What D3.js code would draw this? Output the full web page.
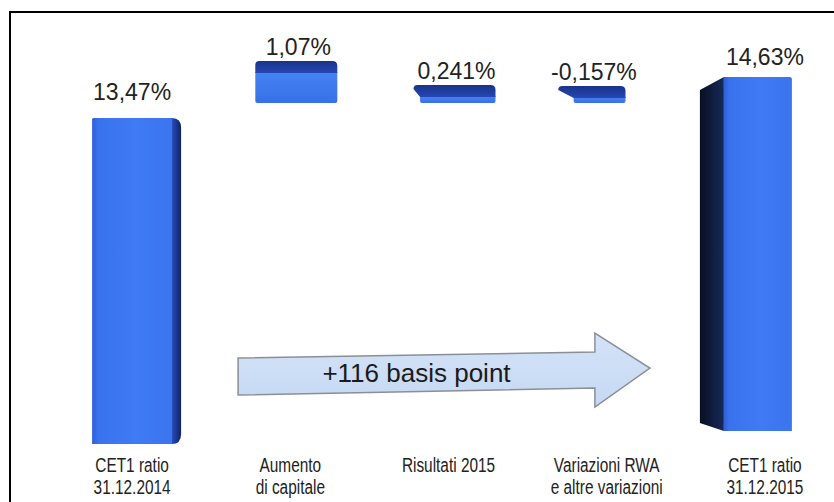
<!DOCTYPE html>
<html>
<head>
<meta charset="utf-8">
<script src="https://cdn.jsdelivr.net/npm/d3@7"></script>
<style>
  body { margin: 0; background: #fff; }
  svg { display: block; }
</style>
</head>
<body>
<div id="chart"></div>
<script>
// dati
const categories = [
  ["CET1 ratio", "31.12.2014"],
  ["Aumento", "di capitale"],
  ["Risultati 2015"],
  ["Variazioni RWA", "e altre variazioni"],
  ["CET1 ratio", "31.12.2015"]
];
const values = [13.47, 1.07, 0.241, -0.157, 14.63];
const barTypes = ["start", "delta", "delta", "delta", "end"];
const arrowLabel = "+116 basis point";

const width = 834, height = 502;
const baseStart = 444;   // base della prima colonna
const baseEnd = 431;     // base dell'ultima (prospettiva)
const shelf = 103;       // livello delle colonne di variazione

const itLocale = d3.formatLocale({ decimal: ",", thousands: ".", grouping: [3], currency: ["", " €"], minus: "-" });
const fmt = itLocale.format(".4~r");

const svg = d3.select("#chart").append("svg")
  .attr("width", width)
  .attr("height", height);

svg.append("rect").attr("width", width).attr("height", height).attr("fill", "#fff");

// cornice
svg.append("path")
  .attr("d", "M10," + height + " V12 H" + width)
  .attr("fill", "none")
  .attr("stroke", "#000")
  .attr("stroke-width", 2);

const defs = svg.append("defs");

function grad(id, stops, x2, y2) {
  const g = defs.append("linearGradient").attr("id", id)
    .attr("x1", 0).attr("y1", 0).attr("x2", x2).attr("y2", y2);
  stops.forEach(s => g.append("stop").attr("offset", s[0]).attr("stop-color", s[1]));
}
grad("frontH", [["0%", "#2d5fd8"], ["8%", "#3a72ee"], ["55%", "#3f7bf4"], ["100%", "#3a74ee"]], 1, 0);
grad("sideR", [["0%", "#2f5fd6"], ["45%", "#2448b0"], ["100%", "#0f2266"]], 1, 0);
grad("sideL", [["0%", "#0a1022"], ["100%", "#17295a"]], 1, 0);
grad("deltaFront", [["0%", "#4683f5"], ["100%", "#3670e6"]], 0, 1);
grad("deltaTop", [["0%", "#1a3389"], ["100%", "#2647b2"]], 0, 1);
grad("arrowFill", [["0%", "#d3e2f7"], ["100%", "#c6d9f3"]], 0, 1);

// scale
const x = d3.scaleBand()
  .domain(d3.range(categories.length))
  .range([53, 844]);
const cx = i => x(i) + x.bandwidth() / 2;
// le colonne a destra appaiono spostate per la prospettiva
const persp = c => c + 6 - Math.max(0, c - 520) * 0.24;

const y = d3.scaleLinear()
  .domain([0, 15])
  .range([0, 363]);   // altezza in px per le colonne totali

const yDelta = d3.scaleLinear()
  .domain([0, 1.07])
  .range([0, 31]);    // le variazioni sono ingrandite

const gBars = svg.append("g").attr("class", "bars");
const labelPos = [];

values.forEach((v, i) => {
  const c = cx(i);
  const g = gBars.append("g");
  if (barTypes[i] === "start") {
    const x0 = c - 40, x1 = c + 40, side = 9;
    const top = baseStart - y(v), bot = baseStart;
    // lato destro arrotondato
    g.append("path")
      .attr("d", "M" + (x1 - 6) + "," + top + " H" + (x1 + side - 9) +
        " Q" + (x1 + side) + "," + top + " " + (x1 + side) + "," + (top + 10) +
        " V" + (bot - 10) + " Q" + (x1 + side) + "," + bot + " " + (x1 + side - 9) + "," + bot +
        " H" + (x1 - 6) + "Z")
      .attr("fill", "url(#sideR)");
    g.append("path")
      .attr("d", "M" + x0 + "," + (top + 1) + " Q" + x0 + "," + top + " " + (x0 + 2) + "," + top +
        " H" + x1 + " V" + bot + " H" + x0 + "Z")
      .attr("fill", "url(#frontH)");
    labelPos.push([c, top - 18]);
  } else if (barTypes[i] === "end") {
    const x0 = c - 41, x1 = c + 27, side = 24, rise = 13;
    const top = baseEnd - y(v), bot = baseEnd;
    g.append("path")
      .attr("d", "M" + (x0 - side) + "," + (top + rise) + " L" + x0 + "," + top +
        " V" + bot + " L" + (x0 - side) + "," + (bot - 8) + "Z")
      .attr("fill", "url(#sideL)");
    g.append("path")
      .attr("d", "M" + x0 + "," + top + " H" + (x1 - 2) + " Q" + x1 + "," + top + " " + x1 + "," + (top + 2) +
        " V" + bot + " H" + x0 + "Z")
      .attr("fill", "url(#frontH)");
    labelPos.push([c, top - 12]);
  } else {
    const pc = persp(c);
    const w = 82 - Math.max(0, c - 520) * 0.17;
    const skew = Math.max(0, (c - 330) / 18);
    const f0 = pc - w / 2, x1 = pc + w / 2, x0 = f0 + skew;
    const h = Math.max(6, yDelta(Math.abs(v)));
    const top = shelf - h, depth = 11;
    // faccia frontale
    g.append("path")
      .attr("d", "M" + x0 + "," + top + " H" + x1 + " V" + (shelf - 2) +
        " Q" + x1 + "," + shelf + " " + (x1 - 2) + "," + shelf +
        " H" + (x0 + 2) + " Q" + x0 + "," + shelf + " " + x0 + "," + (shelf - 2) + "Z")
      .attr("fill", "url(#deltaFront)");
    // faccia superiore
    g.append("path")
      .attr("d", "M" + x0 + "," + (top + 1) + " L" + f0 + "," + (top - depth + 4) +
        " Q" + f0 + "," + (top - depth) + " " + (f0 + 4) + "," + (top - depth) +
        " H" + (x1 - 5) + " Q" + x1 + "," + (top - depth) + " " + x1 + "," + (top - depth + 5) +
        " V" + (top + 1) + "Z")
      .attr("fill", "url(#deltaTop)");
    labelPos.push([pc + 2, top - depth - 6]);
  }
});

// etichette dei valori
svg.append("g").selectAll("text")
  .data(values)
  .join("text")
  .attr("x", (d, i) => labelPos[i][0])
  .attr("y", (d, i) => labelPos[i][1])
  .attr("text-anchor", "middle")
  .attr("font-family", "'Liberation Sans', Arial, sans-serif")
  .attr("font-size", 23)
  .attr("fill", "#222")
  .text(d => fmt(d) + "%");

// etichette delle categorie (carattere condensato)
const cat = svg.append("g").selectAll("text")
  .data(categories)
  .join("text")
  .attr("transform", (d, i) => "translate(" + cx(i) + ",0) scale(0.77,1)")
  .attr("text-anchor", "middle")
  .attr("font-family", "'Liberation Sans', Arial, sans-serif")
  .attr("font-size", 20)
  .attr("fill", "#222");
cat.each(function (d) {
  d3.select(this).selectAll("tspan")
    .data(d)
    .join("tspan")
    .attr("x", 0)
    .attr("y", (t, j) => 472 + j * 22)
    .text(t => t);
});

// freccia
const ax0 = cx(0) + 106, ax1 = cx(4) - 115, headLen = 55;
const arrow = [
  [ax0, 358], [ax1 - headLen, 352], [ax1 - headLen, 333], [ax1, 368],
  [ax1 - headLen, 407], [ax1 - headLen, 388], [ax0, 395]
];
svg.append("path")
  .attr("d", d3.line()(arrow) + "Z")
  .attr("fill", "url(#arrowFill)")
  .attr("stroke", "#8a8f96")
  .attr("stroke-width", 1.5);

svg.append("text")
  .attr("x", (ax0 + ax1 - headLen) / 2)
  .attr("y", 382)
  .attr("text-anchor", "middle")
  .attr("font-family", "'Liberation Sans', Arial, sans-serif")
  .attr("font-size", 26)
  .attr("fill", "#1a1a1a")
  .text(arrowLabel);
</script>
</body>
</html>
